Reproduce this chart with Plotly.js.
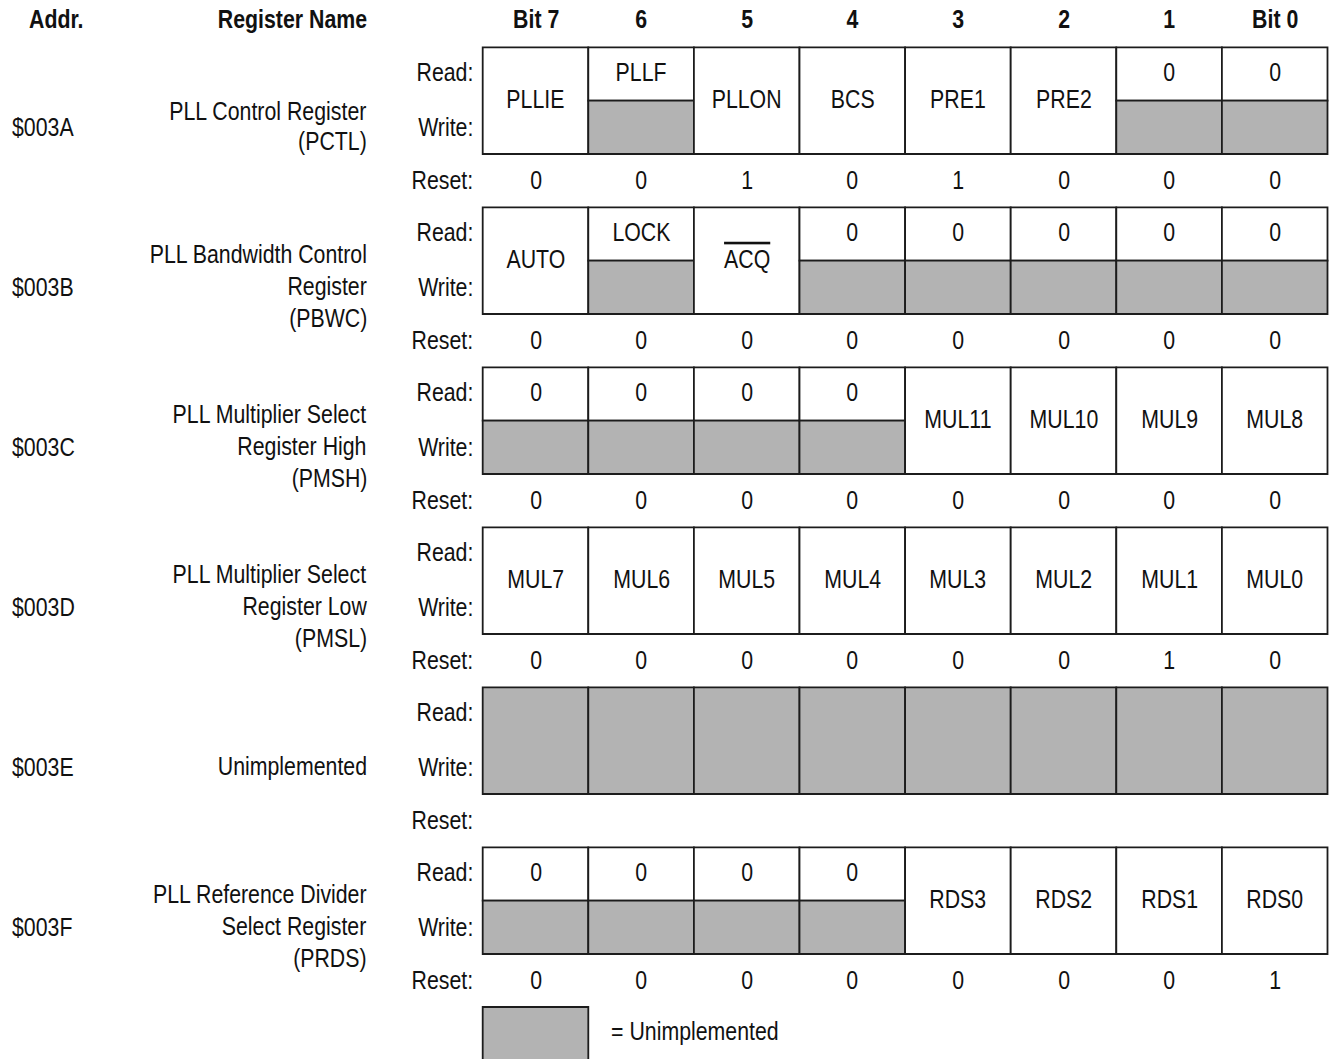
<!DOCTYPE html>
<html>
<head>
<meta charset="utf-8">
<script src="https://cdn.plot.ly/plotly-3.0.1.min.js"></script>
<style>html,body{margin:0;padding:0;background:#fff;}#chart{width:1329px;height:1059px;}</style>
</head>
<body>
<div id="chart"></div>
<script>
// ---------- data ----------
const bitHeaders = ['Bit 7', '6', '5', '4', '3', '2', '1', 'Bit 0'];
const addresses = ['$003A', '$003B', '$003C', '$003D', '$003E', '$003F'];
const regNames = [
  ['PLL Control Register', '(PCTL)'],
  ['PLL Bandwidth Control', 'Register', '(PBWC)'],
  ['PLL Multiplier Select', 'Register High', '(PMSH)'],
  ['PLL Multiplier Select', 'Register Low', '(PMSL)'],
  ['Unimplemented'],
  ['PLL Reference Divider', 'Select Register', '(PRDS)']
];
const bitsPCTL = ['PLLIE', 'PLLF', 'PLLON', 'BCS', 'PRE1', 'PRE2', '0', '0'];
const bitsPBWC = ['AUTO', 'LOCK', "<span style='text-decoration:overline'>ACQ</span>", '0', '0', '0', '0', '0'];
const bitsPMSH = ['0', '0', '0', '0', 'MUL11', 'MUL10', 'MUL9', 'MUL8'];
const bitsPMSL = ['MUL7', 'MUL6', 'MUL5', 'MUL4', 'MUL3', 'MUL2', 'MUL1', 'MUL0'];
const bitsUnimp = ['', '', '', '', '', '', '', ''];
const bitsPRDS = ['0', '0', '0', '0', 'RDS3', 'RDS2', 'RDS1', 'RDS0'];
// access: rw = read/write, r = read only (write half unimplemented), u = unimplemented
const accPCTL = ['rw', 'r', 'rw', 'rw', 'rw', 'rw', 'r', 'r'];
const accPBWC = ['rw', 'r', 'rw', 'r', 'r', 'r', 'r', 'r'];
const accPMSH = ['r', 'r', 'r', 'r', 'rw', 'rw', 'rw', 'rw'];
const accPMSL = ['rw', 'rw', 'rw', 'rw', 'rw', 'rw', 'rw', 'rw'];
const accUnimp = ['u', 'u', 'u', 'u', 'u', 'u', 'u', 'u'];
const accPRDS = ['r', 'r', 'r', 'r', 'rw', 'rw', 'rw', 'rw'];
const resetPCTL = ['0', '0', '1', '0', '1', '0', '0', '0'];
const resetPBWC = ['0', '0', '0', '0', '0', '0', '0', '0'];
const resetPMSH = ['0', '0', '0', '0', '0', '0', '0', '0'];
const resetPMSL = ['0', '0', '0', '0', '0', '0', '1', '0'];
const resetUnimp = ['', '', '', '', '', '', '', ''];
const resetPRDS = ['0', '0', '0', '0', '0', '0', '0', '1'];
const legendText = '= Unimplemented';

const regBits = [bitsPCTL, bitsPBWC, bitsPMSH, bitsPMSL, bitsUnimp, bitsPRDS];
const regAcc = [accPCTL, accPBWC, accPMSH, accPMSL, accUnimp, accPRDS];
const regReset = [resetPCTL, resetPBWC, resetPMSH, resetPMSL, resetUnimp, resetPRDS];

// ---------- layout constants ----------
const W = 1329, H = 1059;
const FONT = '"Liberation Sans", Arial, sans-serif';
const FS = 26;
const NARROW = 0.82;  // horizontal condensing to mimic a narrow face
const TXT = '#111111';
const LINE = '#1c1c1c';
const GRAY = '#b3b3b3';
const gridLeft = 482.7, colW = 105.6;
const top0 = 47.3, pitch = 160, boxH = 106.7;
const headerY = 19;

const shapes = [];
const annotations = [];
function ann(x, y, text, xanchor, bold, extra) {
  annotations.push(Object.assign({
    x: x, y: y, xref: 'x', yref: 'y', text: bold ? '<b>' + text + '</b>' : text,
    showarrow: false, xanchor: xanchor || 'center', yanchor: 'middle',
    font: {family: FONT, size: FS, color: TXT}
  }, extra || {}));
}
function rect(x0, y0, x1, y1, fill) {
  shapes.push({type: 'rect', xref: 'x', yref: 'y', x0: x0, y0: y0, x1: x1, y1: y1,
    fillcolor: fill, line: {color: LINE, width: 1.8}, layer: 'above'});
}

// header
ann(27, headerY, 'Addr.', 'left', true);
ann(369, headerY, 'Register Name', 'right', true);
bitHeaders.forEach((h, i) => ann(gridLeft + colW * (i + 0.5), headerY, h, 'center', true));

regBits.forEach((bits, r) => {
  const top = top0 + pitch * r;
  const mid = top + boxH / 2;
  const bot = top + boxH;
  const readY = top + 25, writeY = top + 80, resetY = top + 133;
  ann(475, readY, 'Read:', 'right');
  ann(475, writeY, 'Write:', 'right');
  ann(475, resetY, 'Reset:', 'right');
  ann(10, writeY, addresses[r], 'left');
  const lines = regNames[r];
  const sp = lines.length === 3 ? 32 : 30;
  lines.forEach((ln, k) => ann(369, writeY - 1 + sp * (k - (lines.length - 1) / 2), ln, 'right'));
  bits.forEach((b, i) => {
    const x0 = gridLeft + colW * i, x1 = x0 + colW, cx = x0 + colW / 2;
    const a = regAcc[r][i];
    if (a === 'rw') {
      rect(x0, top, x1, bot, '#ffffff');
      ann(cx, mid - 1.5, b, 'center');
    } else if (a === 'r') {
      rect(x0, top, x1, mid, '#ffffff');
      rect(x0, mid, x1, bot, GRAY);
      ann(cx, readY, b, 'center');
    } else {
      rect(x0, top, x1, bot, GRAY);
    }
    if (regReset[r][i] !== '') ann(cx, resetY, regReset[r][i], 'center');
  });
});

// legend
rect(gridLeft, 1007, gridLeft + colW, 1075, GRAY);
ann(609, 1031, legendText, 'left');

const layout = {
  width: W, height: H,
  margin: {l: 0, r: 0, t: 0, b: 0},
  paper_bgcolor: '#ffffff', plot_bgcolor: '#ffffff',
  xaxis: {range: [0, W], visible: false, fixedrange: true},
  yaxis: {range: [H, 0], visible: false, fixedrange: true},
  showlegend: false,
  shapes: shapes,
  annotations: annotations
};
Plotly.newPlot('chart', [], layout, {displayModeBar: false, staticPlot: true}).then(gd => {
  const origin = {left: 'left center', right: 'right center', center: 'center center'};
  gd.querySelectorAll('g.annotation').forEach(g => {
    const idx = +g.getAttribute('data-index');
    const a = annotations[idx];
    const t = g.querySelector('text.annotation-text');
    if (!a || !t) return;
    t.style.transformBox = 'fill-box';
    t.style.transformOrigin = origin[a.xanchor] || 'center center';
    t.style.transform = 'scaleX(' + NARROW + ')';
  });
});
</script>
</body>
</html>
